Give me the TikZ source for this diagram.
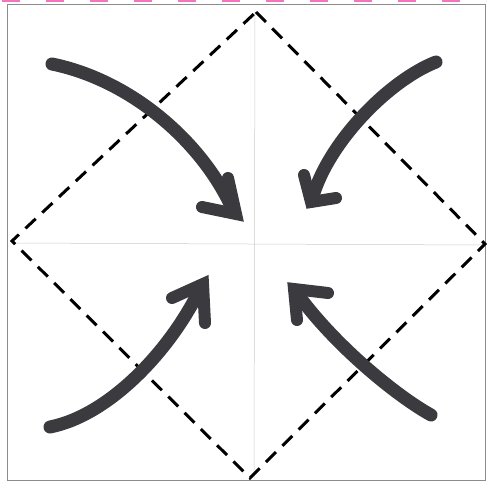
\documentclass[tikz,border=0pt]{standalone}
\begin{document}
\begin{tikzpicture}[x=1pt,y=-1pt,
  frame/.style={draw=black!45,line width=0.8pt},
  crease/.style={draw=black!20,line width=0.5pt},
  fold/.style={draw=black,line width=3pt,dash pattern=on 14pt off 9pt},
  shaft/.style={draw=arrowgray,line width=13pt,line cap=round},
  head/.style={draw=arrowgray,line width=12pt,line cap=round,line join=miter,miter limit=6},
  pinkmark/.style={draw=magenta!55,line width=1.6pt,dash pattern=on 18pt off 26pt}]
\definecolor{arrowgray}{HTML}{3B3B3F}
\useasboundingbox (0,0) rectangle (488,482);
\fill[white] (0,0) rectangle (488,482);
% pink marks at top edge
\draw[pinkmark] (2,1) -- (486,1);
% paper frame
\draw[frame] (7,4) rectangle (485,480);
% coordinates
\coordinate (T) at (256,12);
\coordinate (R) at (485,244);
\coordinate (B) at (250,478);
\coordinate (L) at (12,241);
% creases
\draw[crease] (255,12) -- (254,478);
\draw[crease] (12,243) -- (484,245);
% dashed diamond
\draw[fold] (T) -- (R) -- (B) -- (L) -- cycle;
% arrow 1: top-left
\coordinate (a1s) at (52,64);
\coordinate (a1t) at (236,214);
\draw[shaft] (a1s) .. controls (130,80) and (200,140) .. (231,206);
\draw[head] (202,207) -- (a1t) -- (228,178);
% arrow 2: top-right
\coordinate (a2s) at (436,62);
\coordinate (a2t) at (311,202);
\draw[shaft] (a2s) .. controls (390,80) and (330,140) .. (313,196);
\draw[head] (304,175) -- (a2t) -- (336,198);
% arrow 3: bottom-left
\coordinate (a3s) at (50,427);
\coordinate (a3t) at (203,284);
\draw[shaft] (a3s) .. controls (110,415) and (170,350) .. (199,291);
\draw[head] (172,298) -- (a3t) -- (205,323);
% arrow 4: bottom-right
\coordinate (a4s) at (431,415);
\coordinate (a4t) at (294,289);
\draw[shaft] (a4s) .. controls (395,395) and (335,345) .. (299,296);
\draw[head] (328,293) -- (a4t) -- (297,320);
\end{tikzpicture}
\end{document}
